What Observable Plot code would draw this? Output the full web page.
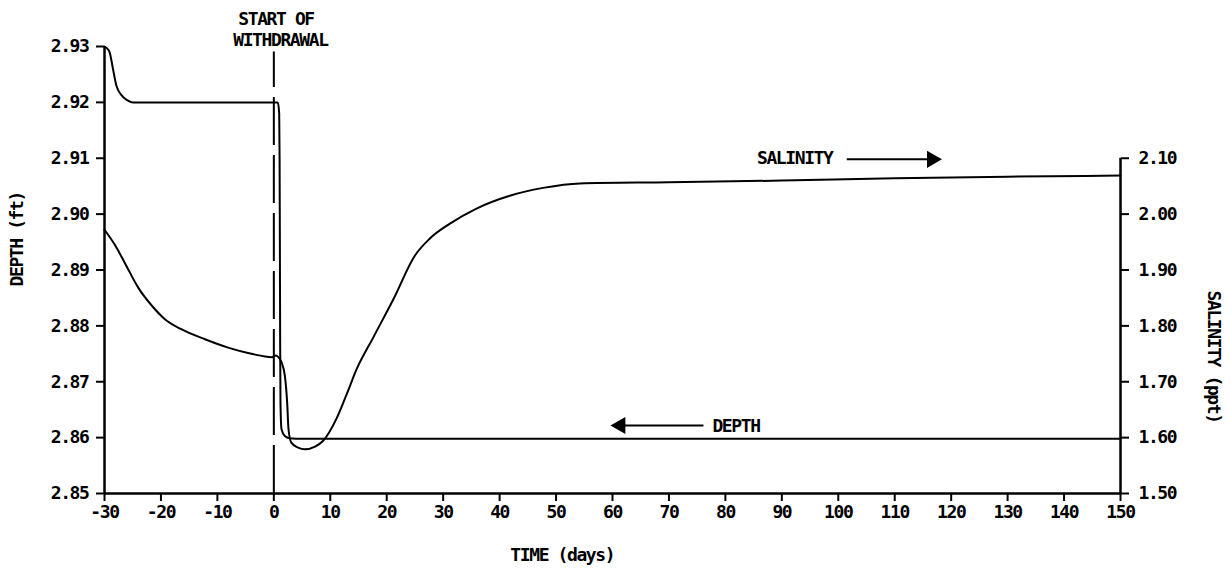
<!DOCTYPE html>
<html><head><meta charset="utf-8">
<script src="https://cdn.jsdelivr.net/npm/d3@7"></script>
<script src="https://cdn.jsdelivr.net/npm/@observablehq/plot@0.6"></script>
<style>body{margin:0;background:#fff;}</style>
</head><body><div id="chart"></div>
<script>
// ---- data ----
const timeTicks = [-30,-20,-10,0,10,20,30,40,50,60,70,80,90,100,110,120,130,140,150];
const depthTicks = [2.85,2.86,2.87,2.88,2.89,2.90,2.91,2.92,2.93];
const salinityTicks = [1.50,1.60,1.70,1.80,1.90,2.00,2.10];

const depthDays =   [-30, -29.6, -29.1, -28.5, -27.9, -27.0, -26.0, -25.0, 0.7, 0.95, 1.02, 1.07, 1.12, 1.18, 1.36, 1.95, 2.8, 5, 150];
const depthValues = [2.930, 2.9297, 2.929, 2.926, 2.923, 2.9213, 2.9204, 2.9200, 2.9200, 2.918, 2.910, 2.895, 2.877, 2.866, 2.8615, 2.8603, 2.8599, 2.8598, 2.8598];

const salinityDays =   [-30, -28.2, -26.4, -24.0, -21.6, -19.3, -16.4, -12.2, -8.1, -4.0, -0.3, 0.3, 0.8, 1.36, 1.95, 2.36, 2.6, 3.1, 4.3, 5.5, 7.3, 8.7, 11.1, 13.0, 14.65, 17.6, 21.2, 25.0, 27.6, 31.2, 35.9, 41.8, 47.7, 54.2, 70, 90, 110, 130, 150];
const salinityValues = [1.972, 1.9455, 1.9127, 1.868, 1.836, 1.812, 1.794, 1.776, 1.761, 1.750, 1.744, 1.747, 1.744, 1.735, 1.711, 1.663, 1.615, 1.591, 1.582, 1.579, 1.584, 1.594, 1.634, 1.680, 1.722, 1.779, 1.848, 1.926, 1.956, 1.983, 2.010, 2.033, 2.047, 2.055, 2.057, 2.060, 2.064, 2.067, 2.069];

// salinity axis shares the frame with depth: 1.50 ppt <-> 2.85 ft, 0.1 ppt <-> 0.01 ft
const salToDepth = s => 2.85 + (s - 1.5) / 10;
const depthToSal = d => 1.5 + (d - 2.85) * 10;

const depthData = depthDays.map((t, i) => ({t, v: depthValues[i]}));
const salData = salinityDays.map((t, i) => ({t, v: salToDepth(salinityValues[i])}));

const plot = Plot.plot({
  width: 1231, height: 571,
  marginLeft: 104, marginRight: 111, marginTop: 46, marginBottom: 78,
  style: {fontFamily: "'DejaVu Sans Mono', monospace", fontSize: "18px", fontWeight: "bold", letterSpacing: "-1.4px", color: "#000", background: "#fff"},
  x: {domain: [-30, 150]},
  y: {domain: [2.85, 2.93]},
  marks: [
    Plot.axisX({ticks: timeTicks, tickFormat: d => String(d), tickSize: 8, tickPadding: 4, strokeWidth: 2, label: null}),
    Plot.axisY({anchor: "left", ticks: depthTicks, tickFormat: d => d.toFixed(2), tickSize: 8, tickPadding: 8, strokeWidth: 2, label: null}),
    Plot.axisY({anchor: "right", ticks: salinityTicks.map(salToDepth), tickFormat: d => depthToSal(d).toFixed(2), tickSize: 8, tickPadding: 10, strokeWidth: 2, label: null}),
    Plot.ruleY([2.85], {x1: -30, x2: 150, strokeWidth: 2.5}),
    Plot.ruleX([-30], {y1: 2.85, y2: 2.93, strokeWidth: 2.5}),
    Plot.ruleX([150], {y1: 2.85, y2: salToDepth(2.10), strokeWidth: 2.5}),
    Plot.ruleX([0], {y1: 2.85, y2: 2.929, strokeWidth: 2, strokeDasharray: "48,10"}),
    Plot.line(depthData, {x: "t", y: "v", curve: "monotone-x", strokeWidth: 2}),
    Plot.line(salData, {x: "t", y: "v", curve: "monotone-x", strokeWidth: 2}),
    // axis titles
    Plot.text([{label: "DEPTH (ft)", y: 2.8955}], {text: "label", y: "y", frameAnchor: "left", dx: -87, rotate: -90, textAnchor: "middle", lineAnchor: "middle"}),
    Plot.text([{label: "SALINITY (ppt)", y: 2.8745}], {text: "label", y: "y", frameAnchor: "right", dx: 93, rotate: 90, textAnchor: "middle", lineAnchor: "middle"}),
    Plot.text([{label: "TIME (days)", x: 51.1}], {text: "label", x: "x", frameAnchor: "bottom", dy: 62, lineAnchor: "middle"}),
    // start of withdrawal annotation
    Plot.text([{label: "START OF", x: -6.3}], {text: "label", x: "x", frameAnchor: "top", dy: -27.7, textAnchor: "start", lineAnchor: "middle"}),
    Plot.text([{label: "WITHDRAWAL", x: -7.2}], {text: "label", x: "x", frameAnchor: "top", dy: -6, textAnchor: "start", lineAnchor: "middle"}),
    // series labels with arrows
    Plot.text([{label: "SALINITY", x: 85.6, y: 2.9100}], {text: "label", x: "x", y: "y", textAnchor: "start"}),
    Plot.ruleY([2.9098], {x1: 101.6, x2: 116.6, strokeWidth: 2}),
    Plot.dot([{x: 116.6, y: 2.9098}], {x: "x", y: "y", symbol: "triangle", rotate: 90, r: 6.4, fill: "#000", stroke: "none"}),
    Plot.text([{label: "DEPTH", x: 77.7, y: 2.8620}], {text: "label", x: "x", y: "y", textAnchor: "start"}),
    Plot.ruleY([2.86217], {x1: 61.4, x2: 76.2, strokeWidth: 2}),
    Plot.dot([{x: 61.4, y: 2.86217}], {x: "x", y: "y", symbol: "triangle", rotate: -90, r: 6.4, fill: "#000", stroke: "none"})
  ]
});
document.getElementById("chart").appendChild(plot);
</script>
</body></html>
